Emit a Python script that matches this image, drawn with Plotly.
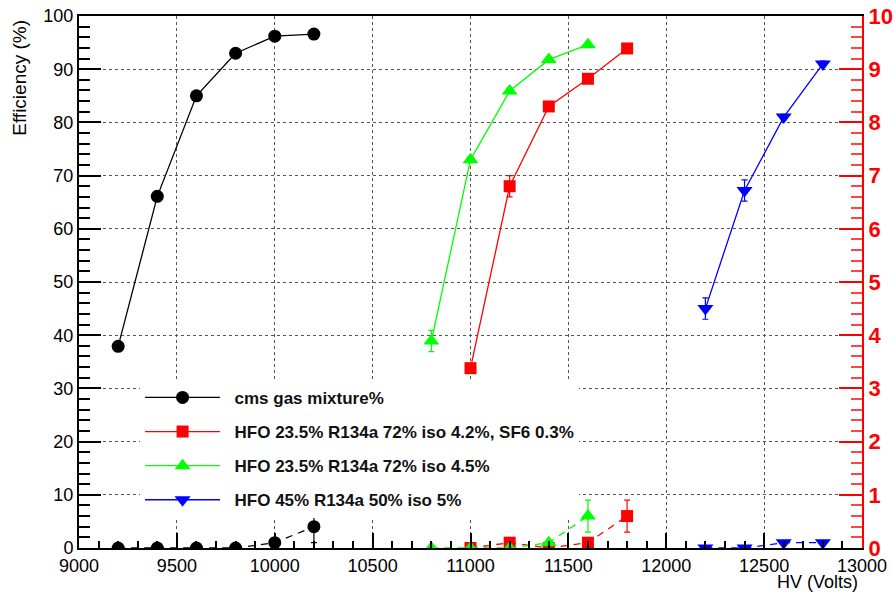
import plotly.graph_objects as go

# High voltage scan points (V)
hv_cms = [9200, 9400, 9600, 9800, 10000, 10200]
hv_sf6 = [11000, 11200, 11400, 11600, 11800]
hv_iso45 = [10800, 11000, 11200, 11400, 11600]
hv_hfo45 = [12200, 12400, 12600, 12800]

# Efficiency (%) - left axis
eff_cms = [37.9, 66.1, 85.0, 93.0, 96.2, 96.6]
eff_cms_err = [0.5, 0.5, 0.5, 0.5, 0.5, 0.5]
eff_sf6 = [33.8, 68.0, 83.0, 88.2, 93.9]
eff_sf6_err = [0.5, 2.0, 0.5, 0.5, 0.5]
eff_iso45 = [38.9, 73.0, 85.9, 91.8, 94.6]
eff_iso45_err = [2.0, 0.5, 0.5, 0.5, 0.5]
eff_hfo45 = [45.0, 67.2, 81.0, 91.0]
eff_hfo45_err = [2.0, 2.0, 0.5, 0.5]

# Secondary quantity - right axis (0-10)
sec_cms = [0.0, 0.0, 0.0, 0.0, 0.1, 0.4]
sec_cms_err = [0.0, 0.0, 0.0, 0.0, 0.0, 0.3]
sec_sf6 = [0.0, 0.1, 0.0, 0.1, 0.6]
sec_sf6_err = [0.0, 0.0, 0.0, 0.0, 0.3]
sec_iso45 = [0.0, 0.0, 0.0, 0.1, 0.6]
sec_iso45_err = [0.0, 0.0, 0.0, 0.0, 0.3]
sec_hfo45 = [0.0, 0.0, 0.1, 0.1]
sec_hfo45_err = [0.0, 0.0, 0.0, 0.0]

names = [
    "cms gas mixture%",
    "HFO 23.5% R134a 72% iso 4.2%, SF6 0.3%",
    "HFO 23.5% R134a 72% iso 4.5%",
    "HFO 45% R134a 50% iso 5%",
]
colors = ["#000000", "#ff0000", "#00ff00", "#0000ff"]
symbols = ["circle", "square", "triangle-up", "triangle-down"]
sizes = [13, 12, 14, 14]

hv_sets = [hv_cms, hv_sf6, hv_iso45, hv_hfo45]
eff_sets = [eff_cms, eff_sf6, eff_iso45, eff_hfo45]
eff_errs = [eff_cms_err, eff_sf6_err, eff_iso45_err, eff_hfo45_err]
sec_sets = [sec_cms, sec_sf6, sec_iso45, sec_hfo45]
sec_errs = [sec_cms_err, sec_sf6_err, sec_iso45_err, sec_hfo45_err]

FONT = "Liberation Sans, Arial, Helvetica, sans-serif"

fig = go.Figure()

# Efficiency curves (solid, left axis)
for i in range(4):
    fig.add_trace(go.Scatter(
        x=hv_sets[i], y=eff_sets[i], name="\u00a0\u00a0" + names[i],
        mode="lines+markers", legendgroup=f"g{i}",
        line=dict(color=colors[i], width=1.3),
        marker=dict(symbol=symbols[i], size=sizes[i], color=colors[i]),
        error_y=dict(type="data", array=eff_errs[i], color=colors[i],
                     thickness=1.2, width=3),
    ))

# Secondary curves (dashed, right axis)
for i in range(4):
    fig.add_trace(go.Scatter(
        x=hv_sets[i], y=sec_sets[i], yaxis="y2", showlegend=False,
        mode="lines+markers",
        line=dict(color=colors[i], width=1.3, dash="7px,6px"),
        marker=dict(symbol=symbols[i], size=sizes[i], color=colors[i]),
        error_y=dict(type="data", array=sec_errs[i], color=colors[i],
                     thickness=1.2, width=3),
    ))

fig.update_layout(
    template="none",
    width=893, height=596,
    margin=dict(l=79, r=31, t=16, b=48, autoexpand=False),
    paper_bgcolor="white", plot_bgcolor="rgba(0,0,0,0)",
    font=dict(family=FONT, size=18, color="black"),
    showlegend=True,
    legend=dict(
        x=0.078, y=0.316, xanchor="left", yanchor="top",
        bgcolor="white", borderwidth=0,
        font=dict(family=FONT, size=17, color="#111111", weight="bold"),
        itemwidth=75, tracegroupgap=9,
    ),
    xaxis=dict(
        range=[9000, 13000], tick0=9000, dtick=500, tickformat="d",
        tickmode="linear",
        ticks="inside", ticklen=15, tickwidth=2, tickcolor="black",
        showline=True, linecolor="black", linewidth=2, mirror=True,
        showgrid=True, gridcolor="#555555", griddash="dot", gridwidth=1,
        zeroline=False,
        minor=dict(dtick=100, ticks="inside", ticklen=7, tickwidth=1.5,
                   tickcolor="black", showgrid=False),
        tickfont=dict(size=18, color="black"),
    ),
    yaxis=dict(
        range=[0, 100], tick0=0, dtick=10, tickmode="linear",
        ticks="inside", ticklen=22, tickwidth=2, tickcolor="black",
        showline=True, linecolor="black", linewidth=2,
        showgrid=True, gridcolor="#555555", griddash="dot", gridwidth=1,
        zeroline=False,
        minor=dict(dtick=2, ticks="inside", ticklen=11, tickwidth=1.5,
                   tickcolor="black", showgrid=False),
        tickfont=dict(size=18, color="black"),
    ),
    yaxis2=dict(
        overlaying="y", side="right", range=[0, 10], tick0=0, dtick=1,
        tickmode="linear",
        ticks="inside", ticklen=23, tickwidth=2, tickcolor="red",
        showline=True, linecolor="red", linewidth=2,
        showgrid=False, zeroline=False,
        minor=dict(dtick=0.2, ticks="inside", ticklen=11, tickwidth=1.5,
                   tickcolor="#ff4444", showgrid=False),
        tickfont=dict(size=22, color="red", weight="bold"),
    ),
)

fig.add_annotation(
    text="Efficiency (%)", textangle=-90, showarrow=False,
    xref="paper", yref="paper", x=-0.0753, y=0.884,
    xanchor="center", yanchor="middle",
    font=dict(family=FONT, size=19, color="black"),
)
fig.add_annotation(
    text="HV (Volts)", showarrow=False,
    xref="paper", yref="paper", x=0.9975, y=-0.064,
    xanchor="right", yanchor="middle",
    font=dict(family=FONT, size=18, color="black"),
)

fig.write_html("out.html")
